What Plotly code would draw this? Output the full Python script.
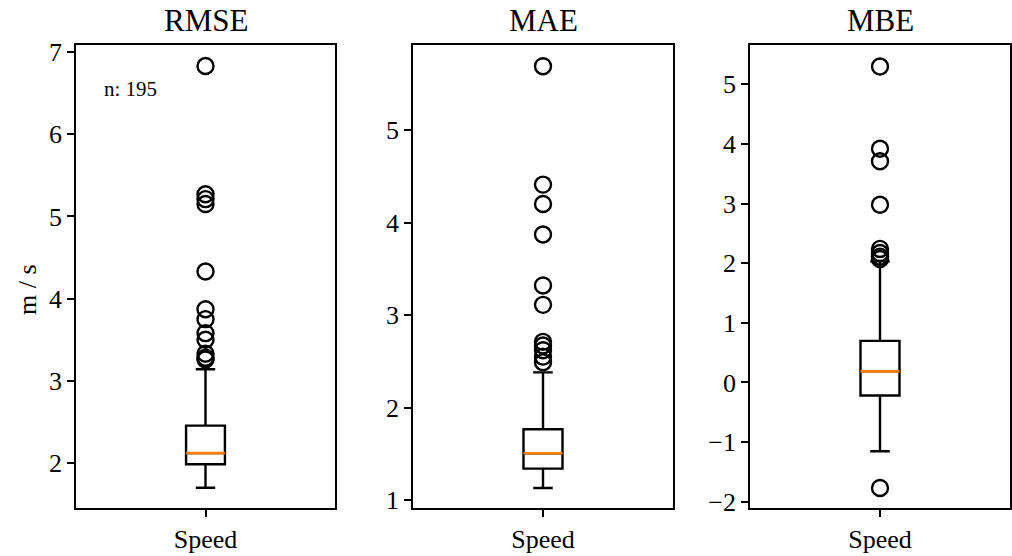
import plotly.graph_objects as go

# ---- data ----
metrics = ["RMSE", "MAE", "MBE"]
category = ["Speed"]
q1 = [1.985, 1.34, -0.218]
median = [2.12, 1.506, 0.185]
q3 = [2.455, 1.765, 0.698]
lower_whisker = [1.70, 1.13, -1.153]
upper_whisker = [3.14, 2.38, 2.03]
outliers_rmse = [6.83, 5.27, 5.21, 5.15, 4.33, 3.87, 3.75, 3.58, 3.50, 3.33, 3.28, 3.26]
outliers_mae = [5.69, 4.41, 4.20, 3.87, 3.32, 3.11, 2.71, 2.67, 2.62, 2.55, 2.49]
outliers_mbe = [5.30, 3.92, 3.71, 2.98, 2.24, 2.17, 2.11, 2.07, -1.77]
outliers = [outliers_rmse, outliers_mae, outliers_mbe]
y_ranges = [[1.453, 7.085], [0.914, 5.919], [-2.106, 5.66]]
n_label = "n: 195"
y_label = "m / s"

# ---- layout geometry ----
W, H = 1012, 556
x_px = [(76, 335), (413, 673), (750, 1010)]
y_top, y_bot = 45, 508
pos = 1.0
box_w = 0.15
FONT = "Liberation Serif"

fig = go.Figure()
for i in range(3):
    xa = "x" if i == 0 else f"x{i+1}"
    ya = "y" if i == 0 else f"y{i+1}"
    fig.add_trace(go.Box(
        x=[pos], q1=[q1[i]], median=[median[i]], q3=[q3[i]],
        lowerfence=[lower_whisker[i]], upperfence=[upper_whisker[i]],
        width=box_w, whiskerwidth=0.5, boxpoints=False,
        line=dict(color="black", width=2.4), fillcolor="white",
        xaxis=xa, yaxis=ya, showlegend=False, hoverinfo="skip"))
    fig.add_trace(go.Scatter(
        x=[pos - box_w / 2, pos + box_w / 2], y=[median[i], median[i]],
        mode="lines", line=dict(color="#ff7f0e", width=2.6),
        xaxis=xa, yaxis=ya, showlegend=False, hoverinfo="skip"))
    fig.add_trace(go.Scatter(
        x=[pos] * len(outliers[i]), y=outliers[i], mode="markers",
        marker=dict(symbol="circle-open", size=16, color="black",
                    line=dict(color="black", width=2.4)),
        xaxis=xa, yaxis=ya, showlegend=False, hoverinfo="skip"))

axis_common = dict(showline=True, mirror=True, linecolor="black", linewidth=1.8,
                   ticks="outside", ticklen=7, tickwidth=1.8, tickcolor="black",
                   showgrid=False, zeroline=False, automargin=False,
                   tickfont=dict(family=FONT, size=26, color="black"))
layout = dict(template="none", width=W, height=H, margin=dict(l=0, r=0, t=0, b=0, pad=0),
              plot_bgcolor="white", paper_bgcolor="white", showlegend=False)
ydom = [1 - y_bot / H, 1 - y_top / H]
for i in range(3):
    sx = "" if i == 0 else str(i + 1)
    xdom = [x_px[i][0] / W, x_px[i][1] / W]
    layout[f"xaxis{sx}"] = dict(domain=xdom, range=[0.5, 1.5], tickvals=[pos],
                                ticktext=category, anchor=f"y{sx}", **axis_common)
    layout[f"yaxis{sx}"] = dict(domain=ydom, range=y_ranges[i], dtick=1,
                                anchor=f"x{sx}", **axis_common)
fig.update_layout(**layout)

annotations = []
for i in range(3):
    annotations.append(dict(text=metrics[i], xref="paper", yref="paper",
                            x=(x_px[i][0] + x_px[i][1]) / 2 / W, y=1 - 20 / H,
                            xanchor="center", yanchor="middle", showarrow=False,
                            font=dict(family=FONT, size=31, color="black")))
annotations.append(dict(text=y_label, xref="paper", yref="paper", x=27 / W, y=1 - 290 / H,
                        textangle=-90, xanchor="center", yanchor="middle", showarrow=False,
                        font=dict(family=FONT, size=26, color="black")))
annotations.append(dict(text=n_label, xref="x domain", yref="y domain", x=0.1, y=0.905,
                        xanchor="left", yanchor="middle", showarrow=False,
                        font=dict(family=FONT, size=21, color="black")))
fig.update_layout(annotations=annotations)

fig.write_html("out.html", config={"displayModeBar": False},
               post_script="document.body.style.margin='0px';document.body.style.overflow='hidden';")
